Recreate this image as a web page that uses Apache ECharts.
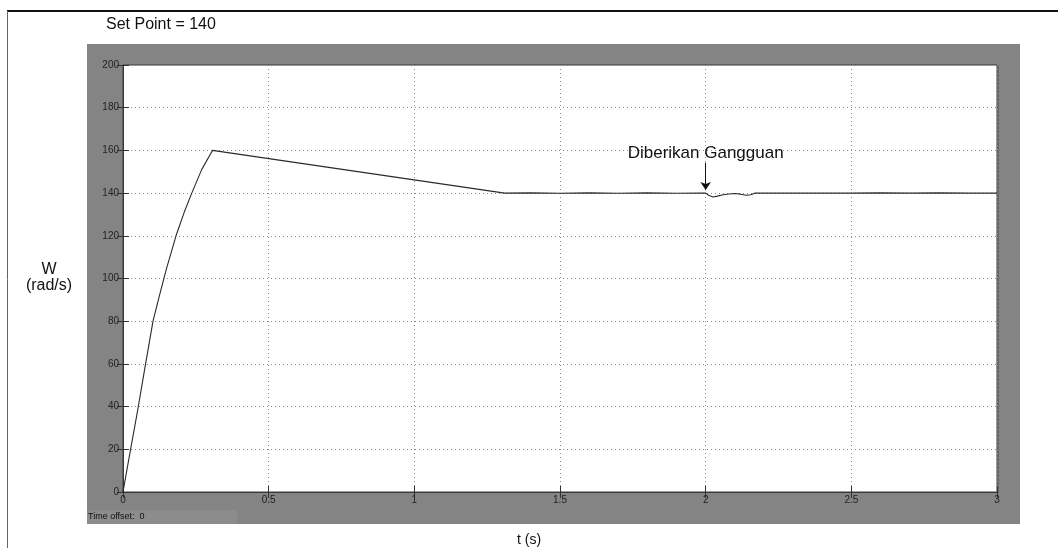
<!DOCTYPE html>
<html>
<head>
<meta charset="utf-8">
<script src="https://cdn.jsdelivr.net/npm/echarts@6/dist/echarts.min.js"></script>
<style>
  html, body { margin: 0; padding: 0; background: #fff; }
  #chart { width: 1058px; height: 548px; }
</style>
</head>
<body>
<div id="chart"></div>
<script>
// Motor speed response, set point 140 rad/s, with a disturbance applied at t = 2 s
const timeValues = [
  0, 0.013, 0.026, 0.05, 0.075, 0.103, 0.127, 0.15, 0.182, 0.21, 0.236, 0.27, 0.307,
  1.31, 1.4, 1.5, 1.6, 1.7, 1.8, 1.9, 1.98, 2.0, 2.01, 2.025, 2.04, 2.06, 2.08,
  2.1, 2.12, 2.14, 2.155, 2.17, 2.2, 2.5, 2.6, 2.7, 2.8, 2.9, 3.0
];
const speedValues = [
  0, 10, 20, 38, 58, 80, 93, 105, 120, 131, 140, 151, 160,
  140, 140.1, 139.9, 140.1, 139.9, 140.1, 139.9, 140, 140, 139, 138.2, 138.6, 139.2, 139.6,
  139.8, 139.5, 139.0, 139.2, 140, 140, 140, 140.1, 140, 140.1, 140, 140
];
const xTicks = { min: 0, max: 3, interval: 0.5 };
const yTicks = { min: 0, max: 200, interval: 20 };
const disturbanceTime = 2;
const disturbanceLabel = 'Diberikan Gangguan';
const titleText = 'Set Point = 140';
const yTitle = 'W\n(rad/s)';
const xTitle = 't (s)';
const offsetText = 'Time offset:  0';

const points = timeValues.map((t, i) => [t, speedValues[i]]);
const fontFamily = '"Liberation Sans", Arial, sans-serif';

const chart = echarts.init(document.getElementById('chart'), null, { renderer: 'canvas' });

const gridLine = { show: true, lineStyle: { color: '#8a8a8a', width: 1, type: [1, 3] } };
const tickStyle = { show: true, inside: true, length: 6, lineStyle: { color: '#333', width: 1 } };

chart.setOption({
  animation: false,
  backgroundColor: '#fff',
  grid: {
    left: 123, top: 65, right: 61, bottom: 56,
    show: true, borderColor: '#3a3a3a', borderWidth: 1, backgroundColor: 'transparent'
  },
  xAxis: [
    {
      type: 'value', min: xTicks.min, max: xTicks.max, interval: xTicks.interval,
      axisLine: { show: true, lineStyle: { color: '#3a3a3a' } },
      axisTick: tickStyle,
      splitLine: gridLine,
      axisLabel: { color: '#222', fontSize: 10, fontFamily, margin: 3 }
    },
    {
      type: 'value', position: 'top', min: xTicks.min, max: xTicks.max, interval: xTicks.interval,
      axisLine: { show: false }, axisTick: tickStyle, splitLine: { show: false }, axisLabel: { show: false }
    }
  ],
  yAxis: [
    {
      type: 'value', min: yTicks.min, max: yTicks.max, interval: yTicks.interval,
      axisLine: { show: true, lineStyle: { color: '#3a3a3a' } },
      axisTick: tickStyle,
      splitLine: gridLine,
      axisLabel: { color: '#222', fontSize: 10, fontFamily, margin: 4 }
    },
    {
      type: 'value', position: 'right', min: yTicks.min, max: yTicks.max, interval: yTicks.interval,
      axisLine: { show: false }, axisTick: tickStyle, splitLine: { show: false }, axisLabel: { show: false }
    }
  ],
  graphic: [
    // outer figure frame
    { type: 'line', z: -20, shape: { x1: 7, y1: 11, x2: 1058, y2: 11 }, style: { stroke: '#111', lineWidth: 2 } },
    { type: 'line', z: -20, shape: { x1: 7.5, y1: 11, x2: 7.5, y2: 548 }, style: { stroke: '#666', lineWidth: 1 } },
    // scope panel and white plot area
    { type: 'rect', z: -15, shape: { x: 87, y: 44, width: 933, height: 480 }, style: { fill: '#848484' } },
    { type: 'rect', z: -14, shape: { x: 87, y: 510, width: 150, height: 14 }, style: { fill: '#8c8c8c' } },
    { type: 'rect', z: -12, shape: { x: 123, y: 65, width: 874, height: 427 }, style: { fill: '#fff' } },
    { type: 'line', z: -11, shape: { x1: 998.5, y1: 65, x2: 998.5, y2: 493 }, style: { stroke: '#6a6a6a', lineWidth: 1 } },
    { type: 'text', x: 106, y: 25, style: { text: titleText, font: '16px ' + fontFamily, fill: '#111', verticalAlign: 'middle' } },
    { type: 'text', x: 88, y: 517, style: { text: offsetText, font: '9px ' + fontFamily, fill: '#111', verticalAlign: 'middle' } },
    { type: 'text', x: 49, y: 278, style: { text: yTitle, font: '16px ' + fontFamily, fill: '#111', align: 'center', verticalAlign: 'middle', lineHeight: 16 } },
    { type: 'text', x: 529, y: 540, style: { text: xTitle, font: '14px ' + fontFamily, fill: '#111', align: 'center', verticalAlign: 'middle' } }
  ],
  series: [
    {
      type: 'line',
      data: points,
      showSymbol: false,
      lineStyle: { color: '#2a2a2a', width: 1.1 },
      markLine: {
        silent: true,
        symbol: ['none', 'arrow'],
        symbolSize: 8,
        lineStyle: { color: '#111', width: 1, type: 'solid' },
        label: {
          show: true, position: 'start', distance: 1,
          formatter: disturbanceLabel,
          fontSize: 17, fontFamily, color: '#111'
        },
        data: [[{ coord: [disturbanceTime, 154.2] }, { coord: [disturbanceTime, 141.4] }]]
      }
    }
  ]
});
</script>
</body>
</html>
